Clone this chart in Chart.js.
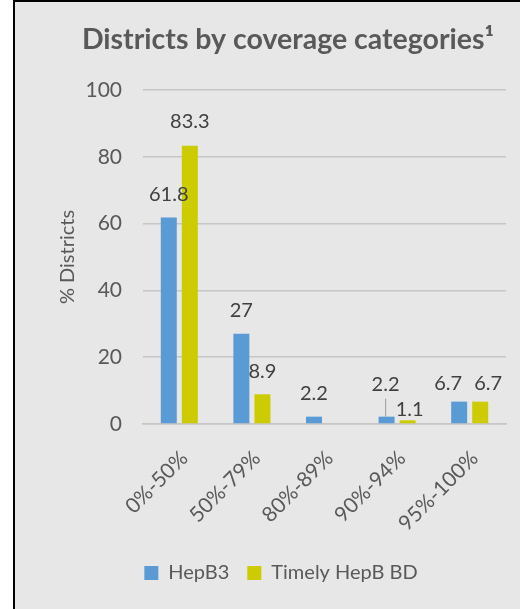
<!DOCTYPE html>
<html>
<head>
<meta charset="utf-8">
<script src="https://cdn.jsdelivr.net/npm/chart.js@4.4.1/dist/chart.umd.min.js"></script>
<style>
  html, body { margin: 0; padding: 0; background: #ffffff; }
  #frame { position: absolute; left: 13px; top: 0; width: 507px; height: 609px;
           background: #e7e7e7; border-left: 2px solid #000; border-top: 2px solid #000; box-sizing: border-box; }
  #wrap { position: absolute; left: 0; top: 0; width: 520px; height: 609px; }
</style>
</head>
<body>
<div id="frame"></div>
<div id="wrap"><canvas id="c" width="520" height="609"></canvas></div>
<script>
const categories = ["0%-50%", "50%-79%", "80%-89%", "90%-94%", "95%-100%"];
const hepB3 = [61.8, 27, 2.2, 2.2, 6.7];
const timelyHepBBD = [83.3, 8.9, 0, 1.1, 6.7];
const yTicks = [0, 20, 40, 60, 80, 100];

const FONT = "Lato, 'Open Sans', sans-serif";
const GREY = "#595959";

// label placement tweaks (pixels): vertical offset above bar top, horizontal shift
const labelDy = [[23, 23, 23, 32, 18], [24, 23, 23, 11, 18]];
const labelDx = [[0, 0, 0, -1, -11], [0, 0, 0, 2, 8]];

const dataLabels = {
  id: 'dataLabels',
  afterDatasetsDraw(chart) {
    const ctx = chart.ctx;
    ctx.save();
    ctx.font = "20px " + FONT;
    ctx.fillStyle = "#404040";
    ctx.textAlign = "center";
    ctx.textBaseline = "middle";
    chart.data.datasets.forEach((ds, di) => {
      const meta = chart.getDatasetMeta(di);
      meta.data.forEach((el, i) => {
        const v = ds.data[i];
        if (!v) return;
        const off = labelDy[di][i];
        ctx.fillText(String(v), el.x + labelDx[di][i], el.y - off);
        if (di === 0 && i === 3) {
          ctx.strokeStyle = "#a6a6a6";
          ctx.lineWidth = 1.2;
          ctx.beginPath();
          ctx.moveTo(el.x - 1, el.y - off + 14);
          ctx.lineTo(el.x - 1, el.y);
          ctx.stroke();
        }
      });
    });
    ctx.restore();
  }
};

const titlePlugin = {
  id: 'titleText',
  afterDraw(chart) {
    const ctx = chart.ctx;
    ctx.save();
    ctx.font = "bold 28.5px " + FONT;
    ctx.fillStyle = GREY;
    ctx.textAlign = "center";
    ctx.textBaseline = "middle";
    ctx.fillText("Districts by coverage categories\u00B9", 288, 40);
    ctx.restore();
  }
};

new Chart(document.getElementById('c'), {
  type: 'bar',
  data: {
    labels: categories,
    datasets: [
      { label: 'HepB3', data: hepB3, backgroundColor: '#5b9bd5', barPercentage: 0.76, categoryPercentage: 0.58 },
      { label: 'Timely HepB BD', data: timelyHepBBD, backgroundColor: '#cccc00', barPercentage: 0.76, categoryPercentage: 0.58 }
    ]
  },
  options: {
    responsive: false,
    animation: false,
    devicePixelRatio: 1,
    layout: { padding: { left: 56, right: 14, top: 90, bottom: 16 } },
    plugins: {
      legend: {
        position: 'bottom',
        labels: { font: { family: FONT, size: 20 }, color: GREY, boxWidth: 14, boxHeight: 14, padding: 18 }
      },
      title: { display: false },
      tooltip: { enabled: false }
    },
    scales: {
      y: {
        min: 0, max: 100,
        afterBuildTicks(scale) { scale.ticks = yTicks.map(v => ({ value: v })); },
        afterFit(scale) { scale.width = 87; },
        ticks: { font: { family: FONT, size: 21 }, color: GREY, padding: 21 },
        grid: { color: '#c6c6c6', lineWidth: 1.5, drawTicks: false },
        border: { display: false },
        title: { display: true, text: '% Districts', font: { family: FONT, size: 20 }, color: GREY, padding: 0 }
      },
      x: {
        afterFit(scale) { scale.height = 121; },
        ticks: { font: { family: FONT, size: 21 }, color: GREY, minRotation: 45, maxRotation: 45, padding: 14, labelOffset: 5 },
        grid: { display: false },
        border: { display: true, color: '#c6c6c6', width: 1.5 }
      }
    }
  },
  plugins: [dataLabels, titlePlugin]
});
</script>
</body>
</html>
